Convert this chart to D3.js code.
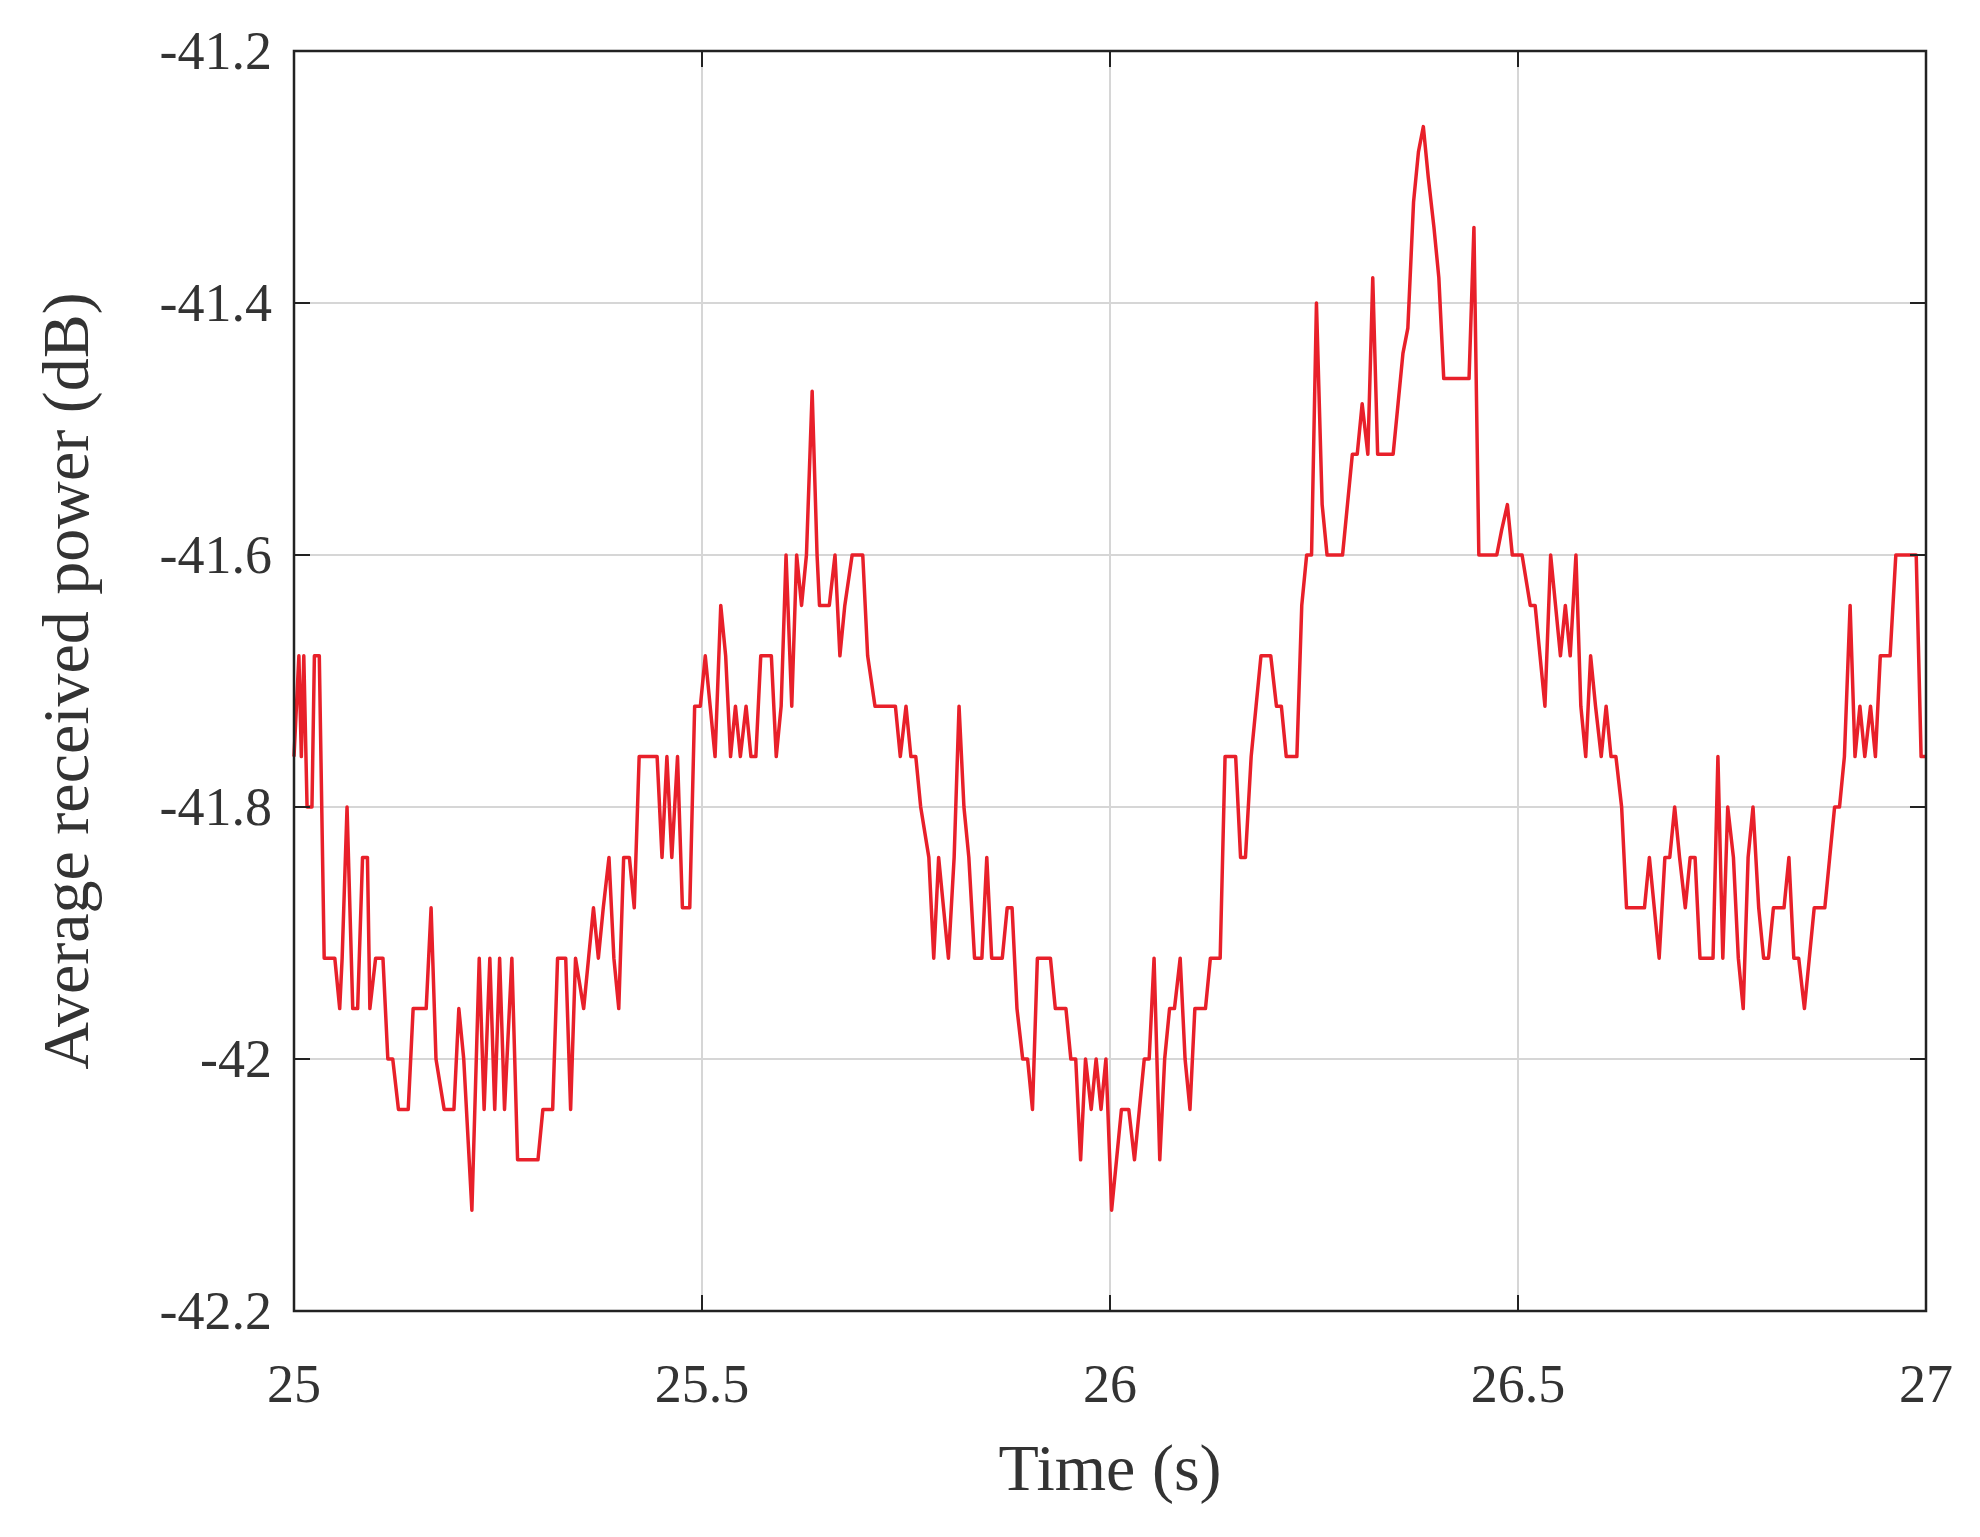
<!DOCTYPE html>
<html><head><meta charset="utf-8">
<script src="https://cdn.jsdelivr.net/npm/d3@7/dist/d3.min.js"></script>
<style>body{margin:0;background:#fff}</style></head>
<body><svg id="c" width="1980" height="1537"></svg>
<script>
const xTicks=[25,25.5,26,26.5,27];
const xTickLabels=["25","25.5","26","26.5","27"];
const yTicks=[-41.2,-41.4,-41.6,-41.8,-42,-42.2];
const yTickLabels=["-41.2","-41.4","-41.6","-41.8","-42","-42.2"];
const time=[25.000,25.006,25.009,25.012,25.016,25.022,25.025,25.031,25.037,25.050,25.056,25.059,25.065,25.072,25.078,25.084,25.090,25.093,25.100,25.109,25.115,25.121,25.128,25.140,25.146,25.162,25.168,25.174,25.184,25.196,25.202,25.208,25.218,25.227,25.233,25.240,25.246,25.252,25.258,25.267,25.274,25.286,25.299,25.305,25.317,25.323,25.333,25.339,25.345,25.355,25.361,25.367,25.373,25.379,25.386,25.392,25.398,25.404,25.411,25.417,25.423,25.445,25.451,25.457,25.463,25.470,25.476,25.485,25.491,25.498,25.504,25.510,25.516,25.523,25.529,25.535,25.541,25.547,25.554,25.560,25.566,25.572,25.585,25.591,25.597,25.603,25.610,25.616,25.622,25.628,25.635,25.641,25.644,25.656,25.663,25.669,25.675,25.684,25.697,25.703,25.712,25.737,25.743,25.750,25.756,25.762,25.768,25.778,25.784,25.790,25.796,25.802,25.809,25.815,25.821,25.827,25.834,25.843,25.849,25.855,25.862,25.868,25.874,25.880,25.886,25.893,25.899,25.905,25.911,25.927,25.933,25.946,25.952,25.958,25.964,25.970,25.977,25.983,25.989,25.995,26.002,26.008,26.014,26.023,26.030,26.036,26.042,26.048,26.054,26.061,26.067,26.073,26.079,26.086,26.092,26.098,26.104,26.110,26.117,26.123,26.135,26.141,26.154,26.160,26.166,26.173,26.179,26.185,26.197,26.204,26.210,26.216,26.229,26.235,26.241,26.247,26.253,26.260,26.266,26.285,26.291,26.297,26.303,26.309,26.316,26.322,26.328,26.334,26.347,26.353,26.359,26.365,26.372,26.378,26.384,26.390,26.397,26.403,26.409,26.418,26.431,26.440,26.446,26.452,26.474,26.480,26.487,26.493,26.505,26.515,26.521,26.527,26.533,26.540,26.546,26.552,26.558,26.564,26.571,26.577,26.583,26.589,26.595,26.602,26.608,26.614,26.620,26.627,26.633,26.655,26.661,26.667,26.673,26.680,26.686,26.692,26.698,26.705,26.711,26.717,26.723,26.729,26.739,26.745,26.751,26.757,26.764,26.770,26.776,26.782,26.788,26.795,26.801,26.807,26.813,26.820,26.826,26.832,26.838,26.844,26.851,26.857,26.863,26.876,26.882,26.888,26.894,26.900,26.907,26.913,26.919,26.925,26.932,26.938,26.944,26.956,26.963,26.988,26.994,27.000];
const power=[-41.76,-41.68,-41.76,-41.68,-41.80,-41.80,-41.68,-41.68,-41.92,-41.92,-41.96,-41.92,-41.80,-41.96,-41.96,-41.84,-41.84,-41.96,-41.92,-41.92,-42.00,-42.00,-42.04,-42.04,-41.96,-41.96,-41.88,-42.00,-42.04,-42.04,-41.96,-42.00,-42.12,-41.92,-42.04,-41.92,-42.04,-41.92,-42.04,-41.92,-42.08,-42.08,-42.08,-42.04,-42.04,-41.92,-41.92,-42.04,-41.92,-41.96,-41.92,-41.88,-41.92,-41.88,-41.84,-41.92,-41.96,-41.84,-41.84,-41.88,-41.76,-41.76,-41.84,-41.76,-41.84,-41.76,-41.88,-41.88,-41.72,-41.72,-41.68,-41.72,-41.76,-41.64,-41.68,-41.76,-41.72,-41.76,-41.72,-41.76,-41.76,-41.68,-41.68,-41.76,-41.72,-41.60,-41.72,-41.60,-41.64,-41.60,-41.47,-41.60,-41.64,-41.64,-41.60,-41.68,-41.64,-41.60,-41.60,-41.68,-41.72,-41.72,-41.76,-41.72,-41.76,-41.76,-41.80,-41.84,-41.92,-41.84,-41.88,-41.92,-41.84,-41.72,-41.80,-41.84,-41.92,-41.92,-41.84,-41.92,-41.92,-41.92,-41.88,-41.88,-41.96,-42.00,-42.00,-42.04,-41.92,-41.92,-41.96,-41.96,-42.00,-42.00,-42.08,-42.00,-42.04,-42.00,-42.04,-42.00,-42.12,-42.08,-42.04,-42.04,-42.08,-42.04,-42.00,-42.00,-41.92,-42.08,-42.00,-41.96,-41.96,-41.92,-42.00,-42.04,-41.96,-41.96,-41.96,-41.92,-41.92,-41.76,-41.76,-41.84,-41.84,-41.76,-41.72,-41.68,-41.68,-41.72,-41.72,-41.76,-41.76,-41.64,-41.60,-41.60,-41.40,-41.56,-41.60,-41.60,-41.56,-41.52,-41.52,-41.48,-41.52,-41.38,-41.52,-41.52,-41.52,-41.48,-41.44,-41.42,-41.32,-41.28,-41.26,-41.30,-41.34,-41.38,-41.46,-41.46,-41.46,-41.46,-41.34,-41.60,-41.60,-41.58,-41.56,-41.60,-41.60,-41.64,-41.64,-41.68,-41.72,-41.60,-41.64,-41.68,-41.64,-41.68,-41.60,-41.72,-41.76,-41.68,-41.72,-41.76,-41.72,-41.76,-41.76,-41.80,-41.88,-41.88,-41.84,-41.88,-41.92,-41.84,-41.84,-41.80,-41.84,-41.88,-41.84,-41.84,-41.92,-41.92,-41.92,-41.76,-41.92,-41.80,-41.84,-41.92,-41.96,-41.84,-41.80,-41.88,-41.92,-41.92,-41.88,-41.88,-41.88,-41.84,-41.92,-41.92,-41.96,-41.92,-41.88,-41.88,-41.84,-41.80,-41.80,-41.76,-41.64,-41.76,-41.72,-41.76,-41.72,-41.76,-41.68,-41.68,-41.60,-41.60,-41.76,-41.76];

const svg=d3.select("#c");
const L=294,R=1926,T=51,B=1311;
const x=d3.scaleLinear().domain([25,27]).range([L,R]);
const y=d3.scaleLinear().domain([-42.2,-41.2]).range([B,T]);
const font="Liberation Serif";
const g=svg.append("g");
// grid
g.selectAll(".gx").data(xTicks).join("line").attr("x1",d=>x(d)).attr("x2",d=>x(d)).attr("y1",T).attr("y2",B).attr("stroke","#d6d6d6").attr("stroke-width",2);
g.selectAll(".gy").data(yTicks).join("line").attr("y1",d=>y(d)).attr("y2",d=>y(d)).attr("x1",L).attr("x2",R).attr("stroke","#d6d6d6").attr("stroke-width",2);
// line
const line=d3.line().x((d,i)=>x(time[i])).y(d=>y(d));
svg.append("path").datum(power).attr("d",line).attr("fill","none").attr("stroke","#e8202a").attr("stroke-width",3.5).attr("stroke-linejoin","round");
// ticks inward
const tk=16;
xTicks.forEach(t=>{[[B,B-tk],[T,T+tk]].forEach(([a,b])=>svg.append("line").attr("x1",x(t)).attr("x2",x(t)).attr("y1",a).attr("y2",b).attr("stroke","#222").attr("stroke-width",2));});
yTicks.forEach(t=>{[[L,L+tk],[R,R-tk]].forEach(([a,b])=>svg.append("line").attr("y1",y(t)).attr("y2",y(t)).attr("x1",a).attr("x2",b).attr("stroke","#222").attr("stroke-width",2));});
svg.append("rect").attr("x",L).attr("y",T).attr("width",R-L).attr("height",B-T).attr("fill","none").attr("stroke","#222").attr("stroke-width",2.5);
// labels
svg.selectAll(".xl").data(xTicks).join("text").attr("x",d=>x(d)).attr("y",1402).attr("text-anchor","middle").attr("font-family",font).attr("font-size",54).attr("fill","#333").text((d,i)=>xTickLabels[i]);
svg.selectAll(".yl").data(yTicks).join("text").attr("x",272).attr("y",d=>y(d)+18).attr("text-anchor","end").attr("font-family",font).attr("font-size",54).attr("fill","#333").text((d,i)=>yTickLabels[i]);
svg.append("text").attr("x",(L+R)/2).attr("y",1490).attr("text-anchor","middle").attr("font-family",font).attr("font-size",66).attr("fill","#333").text("Time (s)");
svg.append("text").attr("transform","translate(88,"+((T+B)/2)+") rotate(-90)").attr("text-anchor","middle").attr("font-family",font).attr("font-size",66).attr("fill","#333").text("Average received power (dB)");
</script></body></html>
